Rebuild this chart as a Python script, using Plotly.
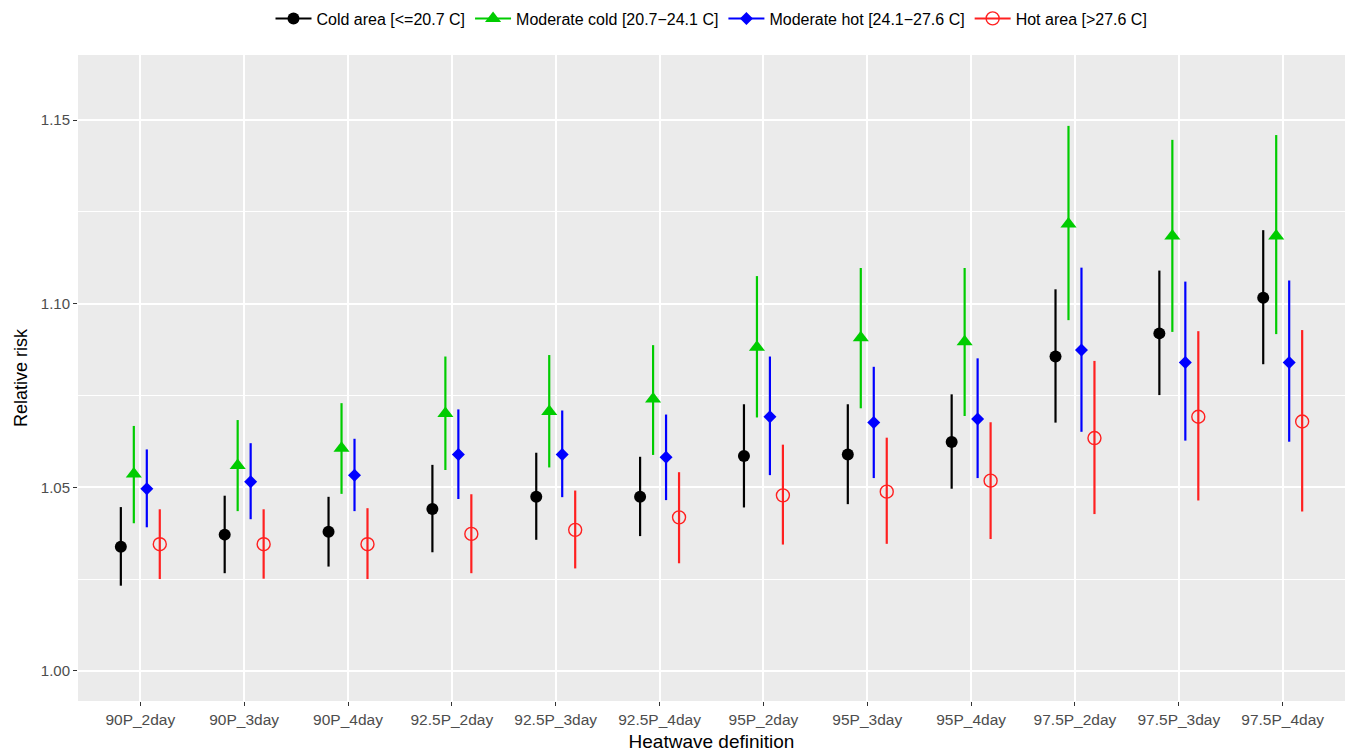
import plotly.graph_objects as go

categories = ["90P_2day", "90P_3day", "90P_4day", "92.5P_2day", "92.5P_3day", "92.5P_4day",
              "95P_2day", "95P_3day", "95P_4day", "97.5P_2day", "97.5P_3day", "97.5P_4day"]

series_names = ["Cold area [<=20.7 C]", "Moderate cold [20.7−24.1 C]",
                "Moderate hot [24.1−27.6 C]", "Hot area [>27.6 C]"]

cold_rr = [1.0338, 1.0371, 1.0379, 1.0441, 1.0474, 1.0474, 1.0585, 1.0589, 1.0623, 1.0856, 1.0919, 1.1016]
cold_lo = [1.0232, 1.0266, 1.0284, 1.0323, 1.0357, 1.0367, 1.0445, 1.0454, 1.0496, 1.0676, 1.0751, 1.0835]
cold_hi = [1.0446, 1.0477, 1.0474, 1.0561, 1.0594, 1.0583, 1.0726, 1.0726, 1.0753, 1.1039, 1.1090, 1.1200]

mcold_rr = [1.0536, 1.0559, 1.0606, 1.0701, 1.0706, 1.0740, 1.0881, 1.0907, 1.0896, 1.1217, 1.1184, 1.1184]
mcold_lo = [1.0402, 1.0435, 1.0482, 1.0547, 1.0554, 1.0588, 1.0690, 1.0715, 1.0694, 1.0955, 1.0923, 1.0917]
mcold_hi = [1.0667, 1.0683, 1.0729, 1.0856, 1.0860, 1.0887, 1.1075, 1.1097, 1.1097, 1.1484, 1.1446, 1.1459]

mhot_rr = [1.0496, 1.0515, 1.0533, 1.0589, 1.0589, 1.0582, 1.0692, 1.0676, 1.0686, 1.0874, 1.0840, 1.0840]
mhot_lo = [1.0391, 1.0413, 1.0435, 1.0468, 1.0473, 1.0465, 1.0533, 1.0525, 1.0525, 1.0651, 1.0627, 1.0624]
mhot_hi = [1.0603, 1.0620, 1.0632, 1.0712, 1.0709, 1.0698, 1.0856, 1.0828, 1.0851, 1.1098, 1.1060, 1.1063]

hot_rr = [1.0345, 1.0345, 1.0345, 1.0373, 1.0384, 1.0418, 1.0478, 1.0488, 1.0518, 1.0634, 1.0692, 1.0679]
hot_lo = [1.0250, 1.0251, 1.0250, 1.0266, 1.0279, 1.0293, 1.0344, 1.0346, 1.0359, 1.0427, 1.0464, 1.0434]
hot_hi = [1.0440, 1.0440, 1.0443, 1.0481, 1.0491, 1.0541, 1.0616, 1.0635, 1.0677, 1.0844, 1.0925, 1.0928]

y_ticks = [1.00, 1.05, 1.10, 1.15]
y_tick_labels = ["1.00", "1.05", "1.10", "1.15"]

styles = [
    dict(symbol="circle", size=12, line=dict(width=0)),
    dict(symbol="triangle-up", size=14, line=dict(width=0)),
    dict(symbol="diamond", size=10, line=dict(width=0)),
    dict(symbol="circle-open", size=13, line=dict(width=1.4, color="#FF2020")),
]
line_colors = ["#000000", "#00CC00", "#0000FF", "#FF2020"]

data = [(cold_rr, cold_lo, cold_hi), (mcold_rr, mcold_lo, mcold_hi),
        (mhot_rr, mhot_lo, mhot_hi), (hot_rr, hot_lo, hot_hi)]

fig = go.Figure()
for i, (name, (rr, lo, hi)) in enumerate(zip(series_names, data)):
    st = styles[i]
    col = line_colors[i]
    marker = dict(symbol=st["symbol"], size=st["size"], line=st["line"], color=col)
    fig.add_trace(go.Scatter(
        x=categories, y=rr, mode="markers", name=name, showlegend=False,
        offsetgroup=str(i), legendgroup=str(i),
        marker=marker,
        error_y=dict(type="data", symmetric=False,
                     array=[h - r for h, r in zip(hi, rr)],
                     arrayminus=[r - l for r, l in zip(rr, lo)],
                     width=0, thickness=2.2, color=col),
        hoverinfo="x+y+name",
    ))
    # legend entry (point with line through, as in ggplot pointrange key)
    fig.add_trace(go.Scatter(
        x=[None], y=[None], mode="lines+markers", name=name, legendgroup=str(i),
        marker=marker, line=dict(color=col, width=2), showlegend=True,
    ))

fig.update_layout(
    width=1351, height=752,
    margin=dict(l=78, r=6, t=55, b=51),
    paper_bgcolor="white",
    plot_bgcolor="#EBEBEB",
    scattermode="group",
    scattergap=0.5,
    font=dict(family="Liberation Sans, Arial, sans-serif", size=15, color="#000000"),
    legend=dict(orientation="h", x=0.5, xanchor="center", y=0.998, yanchor="top",
                yref="container", font=dict(size=16), itemwidth=36, tracegroupgap=0,
                bgcolor="rgba(0,0,0,0)"),
    showlegend=True,
)

fig.update_xaxes(
    type="category", categoryorder="array", categoryarray=categories,
    range=[-0.6, 11.6], showgrid=True, gridcolor="white", gridwidth=1.6,
    zeroline=False, showline=False, automargin=False,
    ticks="outside", ticklen=4, tickwidth=1.2, tickcolor="#333333",
    tickfont=dict(size=15.5, color="#4D4D4D"),
    title=dict(text="Heatwave definition", font=dict(size=19, color="#000000"), standoff=8),
)
fig.update_yaxes(
    range=[0.9918, 1.1677], tickvals=y_ticks, ticktext=y_tick_labels,
    showgrid=True, gridcolor="white", gridwidth=1.6,
    zeroline=False, showline=False, automargin=False,
    ticks="outside", ticklen=4, tickwidth=1.2, tickcolor="#333333",
    tickfont=dict(size=15, color="#4D4D4D"),
    minor=dict(tickvals=[1.025, 1.075, 1.125], showgrid=True, gridcolor="white", gridwidth=0.8, ticks=""),
    title=dict(text="Relative risk", font=dict(size=18, color="#000000"), standoff=8),
)

fig.write_html("out.html")
